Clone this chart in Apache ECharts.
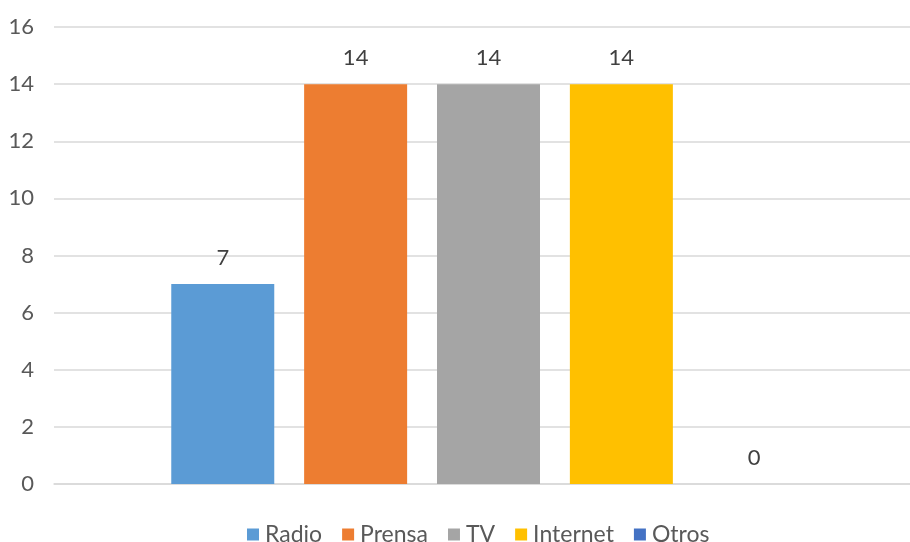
<!DOCTYPE html>
<html>
<head>
<meta charset="utf-8">
<script src="https://cdn.jsdelivr.net/npm/echarts@6/dist/echarts.min.js"></script>
<style>html,body{margin:0;padding:0;background:#fff}#c{width:910px;height:542px}</style>
</head>
<body>
<div id="c"></div>
<script>
var seriesNames = ['Radio', 'Prensa', 'TV', 'Internet', 'Otros'];
var seriesValues = [7, 14, 14, 14, 0];
var seriesColors = ['#5B9BD5', '#ED7D31', '#A5A5A5', '#FFC000', '#4472C4'];
var categories = [''];
var yTicks = {min: 0, max: 16, interval: 2};

var FONT = 'Lato';
var chart = echarts.init(document.getElementById('c'), null, {renderer: 'canvas'});
var series = seriesNames.map(function (n, i) {
  return {
    name: n,
    type: 'bar',
    data: [seriesValues[i]],
    barWidth: 103,
    barGap: '29%',
    itemStyle: {color: seriesColors[i]},
    label: {show: true, position: 'top', distance: 15, color: '#404040', fontFamily: FONT, fontSize: 22}
  };
});
chart.setOption({
  animation: false,
  textStyle: {fontFamily: FONT},
  grid: {left: 54, right: -13, top: 27, bottom: 58, containLabel: false, outerBoundsMode: 'none'},
  legend: {
    bottom: -9, left: 242,
    data: seriesNames,
    icon: 'rect', itemWidth: 12, itemHeight: 12, itemGap: 20,
    textStyle: {color: '#595959', fontFamily: FONT, fontSize: 23, padding: [0, 0, 0, 1]}
  },
  xAxis: {
    type: 'category', data: categories,
    axisLine: {show: true, lineStyle: {color: '#D9D9D9', width: 1.5}},
    axisTick: {show: false}, axisLabel: {show: false}
  },
  yAxis: {
    type: 'value', min: yTicks.min, max: yTicks.max, interval: yTicks.interval,
    axisLine: {show: false}, axisTick: {show: false},
    axisLabel: {color: '#595959', fontFamily: FONT, fontSize: 22, margin: 20},
    splitLine: {lineStyle: {color: '#D9D9D9', width: 1.5}}
  },
  series: series
});
</script>
</body>
</html>
